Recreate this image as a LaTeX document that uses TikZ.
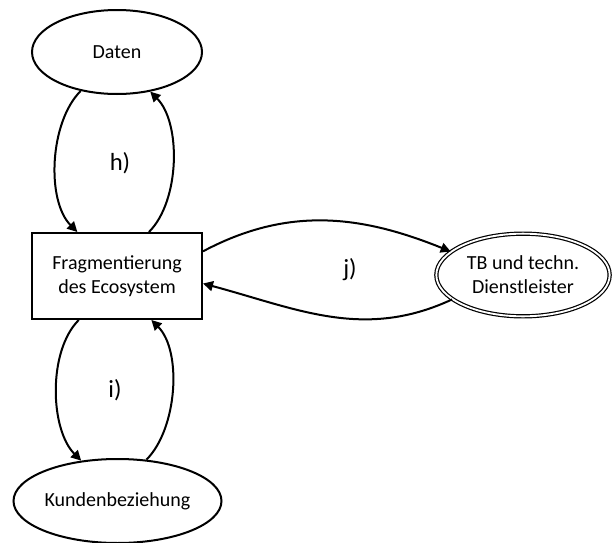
\documentclass[tikz,border=0pt]{standalone}
\usepackage{fontspec}
\setmainfont{Carlito}
\usetikzlibrary{shapes.geometric, arrows.meta}

\tikzset{
	field/.style={shape=ellipse, draw, line width=1.5pt, inner sep=0pt, align=center, font=\fontsize{15}{18}\selectfont},
	block/.style={shape=rectangle, draw, line width=1.5pt, inner sep=0pt, align=center, font=\fontsize{15}{18}\selectfont},
	link/.style={line width=1.5pt, -{Triangle[length=7.5pt, width=7.5pt]}},
	tag/.style={font=\fontsize{18.5}{21}\selectfont}
}

\begin{document}
\begin{tikzpicture}[x=0.75pt, y=-0.75pt]
	\useasboundingbox (0, 0) rectangle (612, 543);
	% Nodes:
	\node[field, minimum width=127.5pt, minimum height=63pt] (daten) at (117, 52){Daten};
	\node[block, minimum width=127.5pt, minimum height=64.5pt] (frag) at (117, 276){Fragmentierung\\des Ecosystem};
	\node[field, minimum width=156pt, minimum height=63pt] (kunden) at (117.5, 501){Kundenbeziehung};
	\node[field, double, line width=0.9pt, double distance=1.4pt, minimum width=130pt, minimum height=62pt] (tb) at (523, 275){TB und techn.\\Dienstleister};
	% Loops:
	\draw[link] (daten.227) to[out=225, in=135, looseness=0.8] (frag.132);
	\draw[link] (frag.54) to[out=45, in=-45, looseness=0.8] (daten.310);
	\draw[link] (frag.229) to[out=225, in=135, looseness=0.8] (kunden.132);
	\draw[link] (kunden.55) to[out=45, in=-45, looseness=0.8] (frag.308);
	\draw[link] (frag.16) to[out=28, in=158] (tb.162);
	\draw[link] (tb.199) to[out=205, in=-15] (frag.355);
	% Labels:
	\node[tag] (h) at (120, 163){h)};
	\node[tag] (i) at (115, 390){i)};
	\node[tag] (j) at (350, 270){j)};
\end{tikzpicture}
\end{document}
